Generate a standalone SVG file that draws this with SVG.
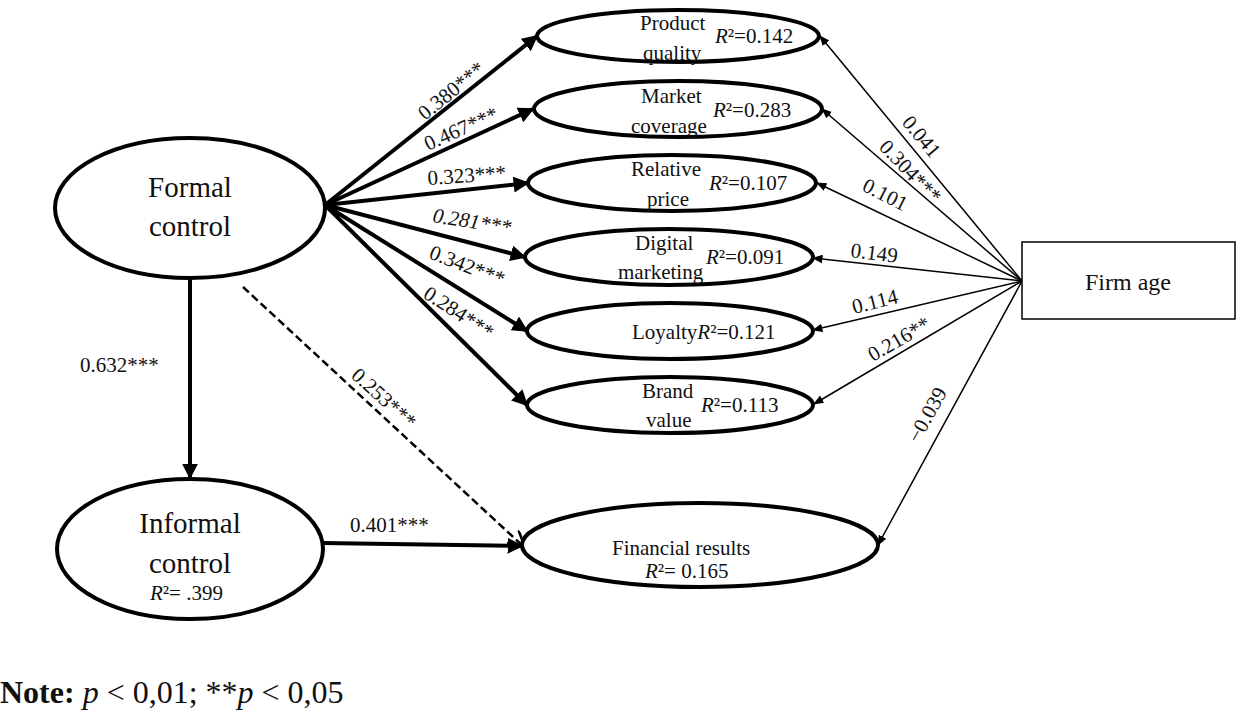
<svg xmlns="http://www.w3.org/2000/svg" width="1241" height="713" viewBox="0 0 1241 713" font-family="'Liberation Serif', 'DejaVu Serif', serif">
<style>
text,tspan{font-family:'Liberation Serif','DejaVu Serif',serif;fill:#111}
.n{fill:#fff;stroke:#000;stroke-width:4}
.big{font-size:29px;text-anchor:middle}
.s{font-size:21px}
.l{font-size:21px}
.th{stroke:#000;stroke-width:4;fill:none}
.tn{stroke:#000;stroke-width:1.5;fill:none}
</style>
<defs>
<marker id="ab" viewBox="0 0 10 10" refX="9" refY="5" markerWidth="4" markerHeight="4" orient="auto"><path d="M0,0L10,5L0,10z"/></marker>
<marker id="at" viewBox="0 0 10 10" refX="9" refY="5" markerWidth="7" markerHeight="7" orient="auto"><path d="M0,1L10,5L0,9z"/></marker>
<marker id="ad" viewBox="0 0 10 10" refX="9" refY="5" markerWidth="7" markerHeight="7" orient="auto"><path d="M0,0L10,5L0,10" fill="none" stroke="#000" stroke-width="1.5"/></marker>
</defs>
<g id="connectors">
<path class="th" marker-end="url(#ab)" d="M325,205L537,36"/>
<path class="th" marker-end="url(#ab)" d="M325,205L533,109"/>
<path class="th" marker-end="url(#ab)" d="M325,205L528,183"/>
<path class="th" marker-end="url(#ab)" d="M325,205L525,257"/>
<path class="th" marker-end="url(#ab)" d="M325,205L527,331"/>
<path class="th" marker-end="url(#ab)" d="M325,205L527,405"/>
<path class="th" marker-end="url(#ab)" d="M190,278L190,478"/>
<path class="th" marker-end="url(#ab)" d="M322,543L522,546"/>
<path stroke="#000" stroke-width="2.5" stroke-dasharray="8,4" fill="none" marker-end="url(#ad)" d="M243,287L524,547"/>
<path class="tn" marker-end="url(#at)" d="M1022,281L820,36"/>
<path class="tn" marker-end="url(#at)" d="M1022,281L822,109"/>
<path class="tn" marker-end="url(#at)" d="M1022,281L817,183"/>
<path class="tn" marker-end="url(#at)" d="M1022,281L813,258"/>
<path class="tn" marker-end="url(#at)" d="M1022,281L813,330"/>
<path class="tn" marker-end="url(#at)" d="M1022,281L814,404"/>
<path class="tn" marker-end="url(#at)" d="M1022,281L878,545"/>
<g class="l">
<text transform="translate(425,121) rotate(-39)">0.380***</text>
<text transform="translate(428,151) rotate(-24)">0.467***</text>
<text x="428" y="185" transform="rotate(-4 428 185)">0.323***</text>
<text transform="translate(432,222) rotate(9)" font-style="italic">0.281***</text>
<text transform="translate(428,258) rotate(21)">0.342***</text>
<text transform="translate(422,297) rotate(33)">0.284***</text>
<text transform="translate(350,377) rotate(42)">0.253***</text>
<text x="80" y="372">0.632***</text>
<text x="350" y="532">0.401***</text>
<text transform="translate(901,123) rotate(50)">0.041</text>
<text transform="translate(878,148) rotate(46)">0.304***</text>
<text transform="translate(861,190) rotate(27)">0.101</text>
<text transform="translate(850,257) rotate(7)">0.149</text>
<text transform="translate(854,314) rotate(-14)">0.114</text>
<text transform="translate(873,362) rotate(-30)">0.216**</text>
<text transform="translate(919,444) rotate(-61)">−0.039</text>
</g>
</g>
<g id="formal"><ellipse class="n" cx="190" cy="208" rx="135" ry="70"/><text class="big" x="190" y="197">Formal</text><text class="big" x="190" y="236">control</text></g>
<g id="informal"><ellipse class="n" cx="190" cy="549" rx="133" ry="70"/><text class="big" x="190" y="533">Informal</text><text class="big" x="190" y="573">control</text><text class="s" x="150" y="600"><tspan font-style="italic">R</tspan>²= .399</text></g>
<g id="pq"><ellipse class="n" cx="678" cy="36" rx="141" ry="26"/><text class="s" x="640" y="30">Product</text><text class="s" x="643" y="60">quality</text><text class="s" x="715" y="43"><tspan font-style="italic">R</tspan>²=0.142</text></g>
<g id="mc"><ellipse class="n" cx="678" cy="109" rx="144" ry="28"/><text class="s" x="641" y="103">Market</text><text class="s" x="631" y="133">coverage</text><text class="s" x="713" y="117"><tspan font-style="italic">R</tspan>²=0.283</text></g>
<g id="rp"><ellipse class="n" cx="672" cy="183" rx="144" ry="28"/><text class="s" x="631" y="176">Relative</text><text class="s" x="647" y="206">price</text><text class="s" x="709" y="190"><tspan font-style="italic">R</tspan>²=0.107</text></g>
<g id="dm"><ellipse class="n" cx="669" cy="257" rx="144" ry="28"/><text class="s" x="635" y="250">Digital</text><text class="s" x="618" y="279">marketing</text><text class="s" x="706" y="264"><tspan font-style="italic">R</tspan>²=0.091</text></g>
<g id="lo"><ellipse class="n" cx="670" cy="331" rx="143" ry="28"/><text class="s" x="632" y="339">Loyalty<tspan font-style="italic">R</tspan>²=0.121</text></g>
<g id="bv"><ellipse class="n" cx="670" cy="405" rx="143" ry="28"/><text class="s" x="642" y="398">Brand</text><text class="s" x="646" y="427">value</text><text class="s" x="701" y="412"><tspan font-style="italic">R</tspan>²=0.113</text></g>
<g id="fr"><ellipse class="n" cx="700" cy="545" rx="178" ry="42"/><text class="s" x="612" y="555">Financial results</text><text class="s" x="645" y="578"><tspan font-style="italic">R</tspan>²=  0.165</text></g>
<g id="fa"><rect x="1022" y="242" width="213" height="77" fill="#fff" stroke="#000" stroke-width="1.5"/><text x="1128" y="290" font-size="24" text-anchor="middle">Firm age</text></g>
<text x="0" y="703" font-size="32"><tspan font-weight="bold">Note:</tspan> <tspan font-style="italic">p</tspan> &lt; 0,01; **<tspan font-style="italic">p</tspan> &lt; 0,05</text>
</svg>
